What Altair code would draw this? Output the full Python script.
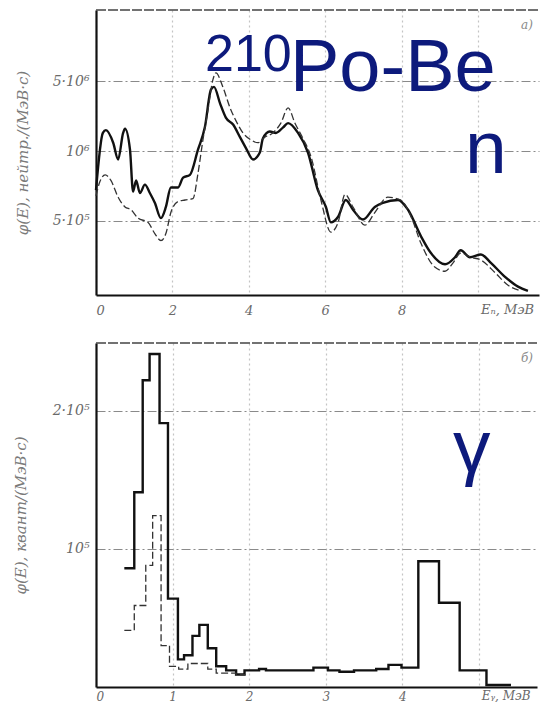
import altair as alt
import pandas as pd

# ---------------- data ----------------
# Top panel: neutron spectrum, values in units of 1e5 neutrons/(MeV s)
n_energy_solid = [0, 0.18, 0.26, 0.45, 0.58, 0.71, 0.76, 0.89, 0.97, 1.05, 1.15, 1.28, 1.41, 1.54,
                  1.70, 1.83, 1.96, 2.15, 2.28, 2.46, 2.67, 2.85, 3.01, 3.09, 3.25, 3.40, 3.59, 3.77,
                  3.93, 4.11, 4.29, 4.37, 4.55, 4.71, 4.90, 5.03, 5.29, 5.55, 5.81, 6.02, 6.15, 6.34,
                  6.54, 6.73, 6.99, 7.30, 7.51, 7.91, 8.17, 8.51, 8.77, 9.14, 9.40, 9.55, 9.79, 10.08,
                  10.34, 10.71, 11.05, 11.31]
n_flux_solid = [7.2, 11.3, 11.5, 10.6, 9.4, 11.3, 11.6, 10.1, 7.1, 7.9, 7.0, 7.6, 7.0, 6.3,
                5.2, 6.0, 7.4, 7.4, 8.1, 8.3, 10.1, 11.7, 14.4, 14.6, 13.4, 12.4, 11.9, 11.0,
                10.2, 9.4, 9.9, 10.9, 11.4, 11.3, 11.7, 12.0, 11.3, 9.9, 7.2, 6.0, 4.9, 5.3,
                6.5, 5.8, 5.1, 6.0, 6.3, 6.5, 5.8, 3.9, 2.7, 1.9, 2.4, 2.9, 2.4, 2.6,
                2.0, 1.0, 0.3, 0.0]
n_energy_dashed = [0, 0.10, 0.24, 0.39, 0.58, 0.76, 0.92, 1.10, 1.36, 1.54, 1.70, 1.83, 1.96, 2.15,
                   2.33, 2.54, 2.67, 2.80, 2.93, 3.06, 3.14, 3.32, 3.51, 3.66, 3.85, 4.06, 4.24, 4.42,
                   4.63, 4.84, 5.03, 5.21, 5.42, 5.63, 5.89, 6.15, 6.34, 6.52, 6.73, 7.04, 7.30, 7.64,
                   7.98, 8.25, 8.51, 8.87, 9.14, 9.35, 9.55, 9.82, 10.08, 10.45, 10.79, 11.13]
n_flux_dashed = [6.8, 7.8, 8.3, 7.9, 6.7, 6.0, 5.8, 5.2, 4.9, 4.1, 3.6, 4.1, 5.6, 6.4,
                 6.5, 6.6, 8.4, 10.8, 12.9, 15.1, 15.6, 14.6, 13.1, 12.2, 11.3, 10.8, 10.6, 11.0,
                 11.3, 12.0, 13.1, 12.0, 10.9, 9.6, 6.5, 4.2, 4.9, 6.9, 6.0, 4.7, 5.6, 6.7,
                 6.5, 5.3, 3.4, 1.7, 1.4, 2.0, 2.7, 2.4, 2.2, 1.3, 0.4, 0.0]

# Bottom panel: gamma spectrum (histogram), values in units of 1e5 quanta/(MeV s)
g_edges_solid = [0.37, 0.50, 0.61, 0.70, 0.83, 0.94, 1.07, 1.15, 1.26, 1.35, 1.46, 1.57, 1.70, 1.83,
                 1.94, 2.13, 2.22, 2.84, 3.03, 3.18, 3.37, 3.66, 3.82, 3.99, 4.21, 4.48, 4.75, 5.10, 5.42]
g_flux_solid = [0.86, 1.41, 2.22, 2.41, 1.91, 0.64, 0.20, 0.23, 0.37, 0.45, 0.28, 0.15, 0.12, 0.09,
                0.12, 0.13, 0.12, 0.14, 0.12, 0.11, 0.12, 0.13, 0.16, 0.14, 0.91, 0.61, 0.12, 0.015]
g_edges_dashed = [0.37, 0.50, 0.65, 0.74, 0.85, 0.96, 1.08, 1.20, 1.46, 1.57, 1.83, 1.95]
g_flux_dashed = [0.41, 0.59, 0.88, 1.24, 0.30, 0.15, 0.13, 0.17, 0.13, 0.10, 0.09]

top_x_ticks = [0, 2, 4, 6, 8, 10]
top_y_ticks = [5, 10, 15]
top_y_labels = ["5·10⁵", "10⁶", "5·10⁶"]
bot_x_ticks = [0, 1, 2, 3, 4, 5]
bot_y_ticks = [1, 2]
bot_y_labels = ["10⁵", "2·10⁵"]

# ---------------- helpers ----------------
def step_df(edges, vals):
    xs = list(edges)
    ys = list(vals) + [vals[-1]]
    return pd.DataFrame({"E": xs, "phi": ys})

def label_expr(ticks, labels):
    expr = "''"
    for t, l in zip(ticks, labels):
        expr = f"datum.value == {t} ? '{l}' : ({expr})"
    return expr

LAB = dict(labelFont="DejaVu Serif", labelFontStyle="italic", labelColor="#6a6a6a")
TIT = dict(titleFont="DejaVu Serif", titleFontStyle="italic", titleColor="#7a7a7a",
           titleFontSize=15, titleFontWeight="normal")
NAVY = "#0d1a7c"

def panel(df_solid, df_dashed, interp, W, H, xdom, ydom, xt, yt, ylabels, xname, ytitle,
          tag, yext, xpad, fsize, annotations):
    xs = alt.Scale(domain=xdom, nice=False, zero=False)
    ys = alt.Scale(domain=ydom, nice=False, zero=False)
    xaxis = alt.Axis(values=xt, labelExpr=f"datum.value == {xt[-1]} ? '' : datum.label",
                     grid=True, gridDash=[2, 3], gridColor="#c4c4c4", gridWidth=1.2,
                     ticks=False, domainColor="#111", domainWidth=2, labelPadding=xpad,
                     labelFontSize=fsize, title=None, **LAB)
    yaxis = alt.Axis(values=yt, labelExpr=label_expr(yt, ylabels), grid=True,
                     gridDash=[9, 3, 2, 3], gridColor="#8a8a8a", gridWidth=1.1,
                     ticks=False, domainColor="#111", domainWidth=2.2, labelPadding=7,
                     labelFontSize=14, minExtent=yext, maxExtent=yext, title=ytitle,
                     titlePadding=11, **TIT, **LAB)
    X = alt.X("E:Q", scale=xs, axis=xaxis)
    Y = alt.Y("phi:Q", scale=ys, axis=yaxis)
    solid = alt.Chart(df_solid).mark_line(color="#111", strokeWidth=2.4, interpolate=interp).encode(
        x=X, y=Y)
    dashed = alt.Chart(df_dashed).mark_line(color="#333", strokeWidth=1.3, strokeDash=[7, 3],
                                            interpolate=interp).encode(x=X, y=Y)
    top = alt.Chart(pd.DataFrame({"a": [0]})).mark_rule(color="#444", strokeWidth=1.5,
                                                        strokeDash=[10, 2]).encode(
        x=alt.value(0), x2=alt.value(W), y=alt.value(0))
    name = alt.Chart(pd.DataFrame({"t": [xname], "E": [xt[-1]]})).mark_text(
        align="left", baseline="top", font="DejaVu Serif", fontStyle="italic",
        fontSize=fsize, color="#6a6a6a", dx=3).encode(
        x=X, y=alt.value(H + xpad), text="t:N")
    tagm = alt.Chart(pd.DataFrame({"t": [tag]})).mark_text(
        align="left", baseline="middle", font="DejaVu Serif", fontStyle="italic",
        fontSize=12, color="#8a8a8a").encode(
        x=alt.value(425), y=alt.value(15), text="t:N")
    layers = [solid, dashed, top, name, tagm]
    for (txt, px, py, size) in annotations:
        layers.append(alt.Chart(pd.DataFrame({"t": [txt]})).mark_text(
            align="left", baseline="alphabetic", font="Liberation Sans", fontSize=size,
            color=NAVY).encode(x=alt.value(px), y=alt.value(py), text="t:N"))
    return alt.layer(*layers).properties(width=W, height=H)

W1, H1 = 443, 285
W2, H2 = 441, 344

top_chart = panel(
    pd.DataFrame({"E": n_energy_solid, "phi": n_flux_solid}),
    pd.DataFrame({"E": n_energy_dashed, "phi": n_flux_dashed}),
    "monotone", W1, H1, [0, 11.6], [-0.3, 20.1],
    top_x_ticks, top_y_ticks, top_y_labels, "Eₙ, МэВ",
    "φ(E), нейтр./(МэВ·с)", "а)", 55, 9, 13,
    [("210", 109, 61, 52), ("Po-Be", 194, 81, 74), ("n", 369, 163, 75)])

bottom_chart = panel(
    step_df(g_edges_solid, g_flux_solid),
    step_df(g_edges_dashed, g_flux_dashed),
    "step-after", W2, H2, [0, 5.76], [0, 2.49],
    bot_x_ticks, bot_y_ticks, bot_y_labels, "Eᵧ, МэВ",
    "φ(E), квант/(МэВ·с)", "б)", 57, 4, 12,
    [("γ", 357, 129, 75)])

chart = alt.vconcat(top_chart, bottom_chart, spacing=25).properties(
    padding={"left": 5, "right": 0, "top": 1, "bottom": 0}
).configure_view(stroke=None)

chart.save("out.html", embed_options={"renderer": "svg", "actions": False})
